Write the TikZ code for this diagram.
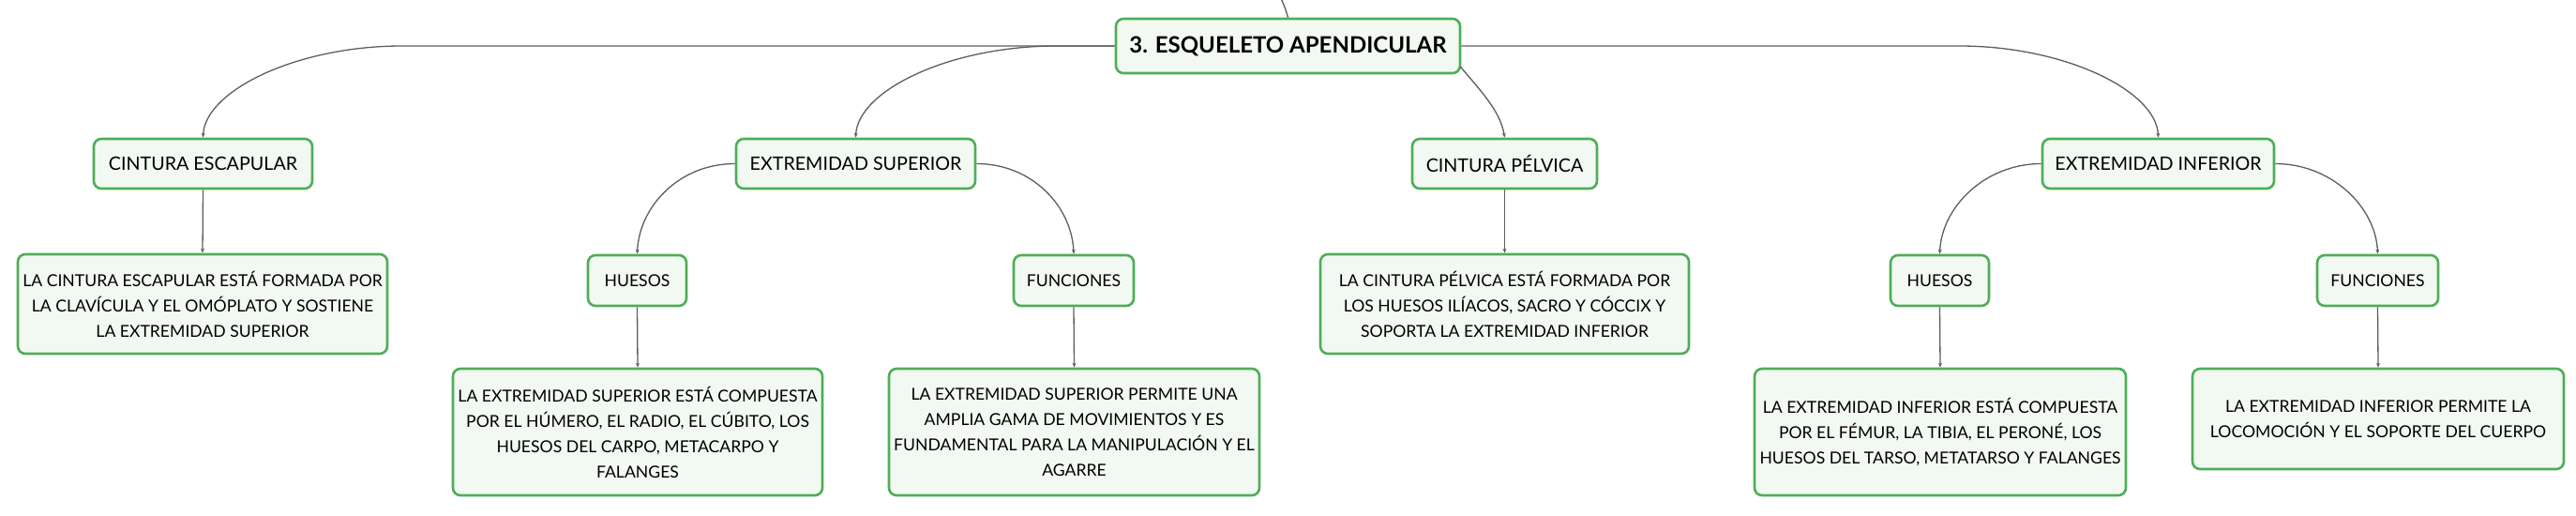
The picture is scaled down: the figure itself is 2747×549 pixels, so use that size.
\documentclass[tikz,border=0pt]{standalone}
\usepackage{fontspec}
\setmainfont{Lato}
\usetikzlibrary{arrows.meta,calc}
\definecolor{boxgreen}{HTML}{4FAE57}
\definecolor{boxfill}{HTML}{F2F9F3}
\definecolor{linegrey}{HTML}{5E5E5E}
\tikzset{
  mbox/.style={draw=boxgreen, fill=boxfill, line width=2.6pt, rounded corners=8pt,
    inner sep=0pt, align=center, font=\fontsize{17.6}{27}\selectfont, text=black},
  topicbox/.style={mbox, font=\fontsize{19.7}{24}\selectfont},
  rootbox/.style={mbox, font=\fontsize{24}{28}\selectfont\bfseries},
  conn/.style={draw=linegrey, line width=1.3pt, -{Stealth[length=5pt,width=4pt]}},
  connplain/.style={draw=linegrey, line width=1.3pt}
}
\begin{document}
\begin{tikzpicture}[x=1pt,y=-1pt]
\useasboundingbox (0,0) rectangle (2747,549);
% nodes
\node[rootbox, minimum width=367pt, minimum height=58pt] (root) at (1373.5,49) {3. ESQUELETO APENDICULAR};
\node[topicbox, minimum width=233pt, minimum height=53pt] (ce) at (216.5,174.5) {CINTURA ESCAPULAR};
\node[topicbox, minimum width=255pt, minimum height=53pt] (es) at (912.5,174.5) {EXTREMIDAD SUPERIOR};
\node[topicbox, minimum width=197pt, minimum height=53pt] (cp) at (1604.5,174.5) {CINTURA PÉLVICA};
\node[topicbox, minimum width=247pt, minimum height=53pt] (ei) at (2301.5,174.5) {EXTREMIDAD INFERIOR};
\node[mbox, minimum width=105pt, minimum height=54pt] (esh) at (679.5,299) {HUESOS};
\node[mbox, minimum width=128pt, minimum height=54pt] (esf) at (1145,299) {FUNCIONES};
\node[mbox, minimum width=105pt, minimum height=54pt] (eih) at (2068.5,299) {HUESOS};
\node[mbox, minimum width=129pt, minimum height=54pt] (eif) at (2535.5,299) {FUNCIONES};
\node[mbox, minimum width=394pt, minimum height=106pt] (ced) at (216,324) {LA CINTURA ESCAPULAR ESTÁ FORMADA POR\\LA CLAVÍCULA Y EL OMÓPLATO Y SOSTIENE\\LA EXTREMIDAD SUPERIOR};
\node[mbox, minimum width=393pt, minimum height=106pt] (cpd) at (1604.5,324) {LA CINTURA PÉLVICA ESTÁ FORMADA POR\\LOS HUESOS ILÍACOS, SACRO Y CÓCCIX Y\\SOPORTA LA EXTREMIDAD INFERIOR};
\node[mbox, minimum width=394pt, minimum height=135pt] (eshd) at (680,460.5) {LA EXTREMIDAD SUPERIOR ESTÁ COMPUESTA\\POR EL HÚMERO, EL RADIO, EL CÚBITO, LOS\\HUESOS DEL CARPO, METACARPO Y\\FALANGES};
\node[mbox, minimum width=395pt, minimum height=135pt] (esfd) at (1145.5,460.5) {LA EXTREMIDAD SUPERIOR PERMITE UNA\\AMPLIA GAMA DE MOVIMIENTOS Y ES\\FUNDAMENTAL PARA LA MANIPULACIÓN Y EL\\AGARRE};
\node[mbox, minimum width=396pt, minimum height=135pt] (eihd) at (2069,460.5) {LA EXTREMIDAD INFERIOR ESTÁ COMPUESTA\\POR EL FÉMUR, LA TIBIA, EL PERONÉ, LOS\\HUESOS DEL TARSO, METATARSO Y FALANGES};
\node[mbox, minimum width=396pt, minimum height=107pt] (eifd) at (2536,446.5) {LA EXTREMIDAD INFERIOR PERMITE LA\\LOCOMOCIÓN Y EL SOPORTE DEL CUERPO};
\coordinate (up) at (1366,-2);
% connectors
\draw[connplain] (root.north) .. controls (1371,10) .. (up);
\draw[conn] (root.west) -- ($(root.west -| ce.north)+(212,0)$) .. controls ($(root.west -| ce.north)+(100,0)$) and ($(ce.north)+(2,-50)$) .. (ce.north);
\draw[conn] (root.west) -- ($(root.west -| es.north)+(214,0)$) .. controls ($(root.west -| es.north)+(100,0)$) and ($(es.north)+(2,-50)$) .. (es.north);
\draw[conn] (root.east) -- ($(root.east -| ei.north)+(-212,0)$) .. controls ($(root.east -| ei.north)+(-100,0)$) and ($(ei.north)+(-2,-50)$) .. (ei.north);
\draw[conn] ($(root.east)+(-1,22)$) .. controls (1578,96) and (1600,118) .. (cp.north);
\draw[conn] (es.west) .. controls ($(es.west)+(-60,0)$) and ($(esh.north)+(2,-50)$) .. (esh.north);
\draw[conn] (es.east) .. controls ($(es.east)+(60,0)$) and ($(esf.north)+(-2,-50)$) .. (esf.north);
\draw[conn] (ei.west) .. controls ($(ei.west)+(-60,0)$) and ($(eih.north)+(2,-50)$) .. (eih.north);
\draw[conn] (ei.east) .. controls ($(ei.east)+(60,0)$) and ($(eif.north)+(-2,-50)$) .. (eif.north);
\draw[conn] (ce.south) -- (ced.north);
\draw[conn] (cp.south) -- (cpd.north);
\draw[conn] (esh.south) -- (eshd.north);
\draw[conn] (esf.south) -- (esfd.north);
\draw[conn] (eih.south) -- (eihd.north);
\draw[conn] (eif.south) -- (eifd.north);
\end{tikzpicture}
\end{document}
